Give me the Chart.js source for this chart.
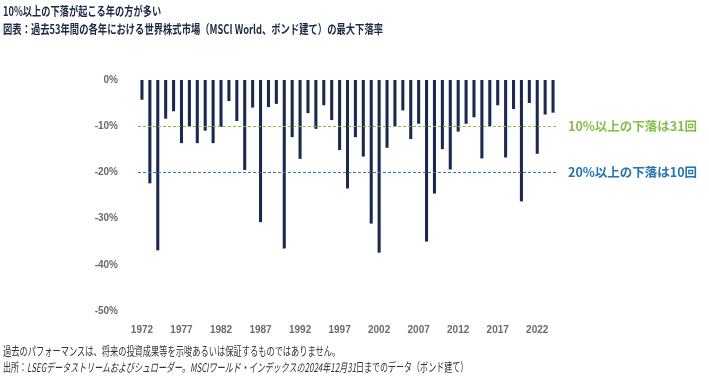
<!DOCTYPE html>
<html>
<head>
<meta charset="utf-8">
<script src="https://cdn.jsdelivr.net/npm/chart.js@4"></script>
<style>
  body { margin: 0; background: #fff; font-family: "Noto Sans CJK JP", sans-serif; }
  #wrap { position: relative; width: 709px; height: 376px; overflow: hidden; }
  #chartBox { position: absolute; left: 0; top: 0; width: 709px; height: 376px; }
  .t { position: absolute; left: 3px; white-space: nowrap; transform-origin: left center; line-height: 1.2; }
  .title { font-weight: bold; color: #1d2a44; font-size: 12.5px; }
  .foot { color: #333; font-size: 12px; }
  .foot i { font-style: italic; }
</style>
</head>
<body>
<div id="wrap">
  <div id="chartBox"><canvas id="ddChart"></canvas></div>
  <div class="t title" id="t1" style="top:3px;">10%以上の下落が起こる年の方が多い</div>
  <div class="t title" id="t2" style="top:21px;">図表：過去53年間の各年における世界株式市場（MSCI World、ボンド建て）の最大下落率</div>
  <div class="t foot" id="f1" style="top:344px;">過去のパフォーマンスは、将来の投資成果等を示唆あるいは保証するものではありません。</div>
  <div class="t foot" id="f2" style="top:360px;">出所：<i>LSEGデータストリームおよびシュローダー。MSCIワールド・インデックスの2024年12月31</i>日までのデータ（ボンド建て）</div>
</div>
<script>
  // =================== DATA ===================
  const years = [];
  for (let y = 1972; y <= 2024; y++) years.push(String(y));

  // max intra-year drawdown (%)
  const drawdowns = [
    -4.2, -22.3, -36.8, -8.3, -6.7, -13.6, -10.1, -13.6, -10.9, -13.6,
    -10.1, -4.5, -8.8, -19.4, -5.9, -30.7, -5.8, -5.1, -36.4, -12.3,
    -17.0, -7.1, -10.5, -5.4, -8.6, -15.1, -23.4, -12.3, -16.5, -31.0,
    -37.3, -14.6, -10.0, -6.5, -12.7, -9.4, -34.9, -24.5, -14.9, -19.3,
    -11.1, -9.4, -8.0, -16.9, -9.9, -5.4, -16.7, -6.2, -26.2, -4.9,
    -15.9, -7.4, -7.0
  ];

  const yTicks = [0, -10, -20, -30, -40, -50];

  const refLevels = [-10, -20];
  const refLabels = ['10%以上の下落は31回', '20%以上の下落は10回'];
  const refColors = ['#8fb84a', '#2f78b0'];
  const refTextColors = ['#84bf48', '#2274b2'];

  // squeeze the text lines the way the narrow source font does
  function fitWidth(id, w) {
    const el = document.getElementById(id);
    el.style.transform = 'scaleX(' + (w / el.scrollWidth) + ')';
  }
  fitWidth('t1', 158);
  fitWidth('t2', 380);
  fitWidth('f1', 337);
  fitWidth('f2', 465);

  // =================== REFERENCE LINES ===================
  const refLinePlugin = {
    id: 'refLines',
    afterDatasetsDraw(chart) {
      const ctx = chart.ctx;
      const area = chart.chartArea;
      const ys = chart.scales.y;
      ctx.save();
      refLevels.forEach((lv, i) => {
        const py = Math.round(ys.getPixelForValue(lv)) + 0.5;
        ctx.strokeStyle = refColors[i];
        ctx.lineWidth = 1;
        ctx.setLineDash([3, 2]);
        ctx.beginPath();
        ctx.moveTo(area.left, py);
        ctx.lineTo(area.right, py);
        ctx.stroke();
        ctx.setLineDash([]);
        ctx.fillStyle = refTextColors[i];
        ctx.font = 'bold 12.5px "Noto Sans CJK JP"';
        ctx.textBaseline = 'middle';
        ctx.fillText(refLabels[i], area.right + 11, py);
      });
      ctx.restore();
    }
  };

  // =================== CHART ===================
  new Chart(document.getElementById('ddChart'), {
    type: 'bar',
    data: {
      labels: years,
      datasets: [{
        data: drawdowns,
        backgroundColor: '#1b2950',
        barThickness: 2.4
      }]
    },
    options: {
      responsive: true,
      maintainAspectRatio: false,
      animation: false,
      layout: { padding: { left: 60, right: 152, top: 80, bottom: 40 } },
      plugins: { legend: { display: false }, tooltip: { enabled: false } },
      scales: {
        x: {
          grid: { display: false },
          border: { display: false },
          afterFit(scale) { scale.height = 25; },
          ticks: {
            autoSkip: false,
            maxRotation: 0,
            padding: 5,
            color: '#6b6b6b',
            font: { family: 'Liberation Sans', size: 10, weight: 'bold' },
            callback(v, i) { return i % 5 === 0 ? years[i] : ''; }
          }
        },
        y: {
          min: -50,
          max: 0,
          afterFit(scale) { scale.width = 78; },
          afterBuildTicks(scale) { scale.ticks = yTicks.map(v => ({ value: v })); },
          grid: { display: false },
          border: { display: false },
          ticks: {
            padding: 12,
            color: '#6b6b6b',
            font: { family: 'Liberation Sans', size: 10, weight: 'bold' },
            callback: v => v + '%'
          }
        }
      }
    },
    plugins: [refLinePlugin]
  });
</script>
</body>
</html>
